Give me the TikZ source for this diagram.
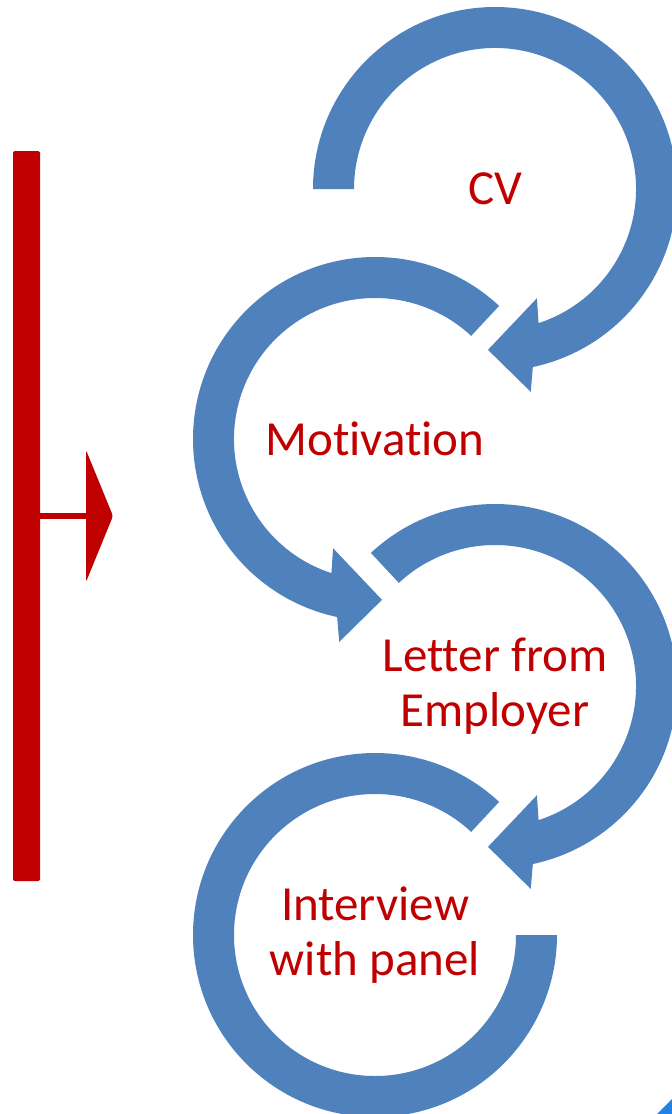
\documentclass[tikz,border=0pt]{standalone}
\usepackage{fontspec}
\setmainfont[Ligatures={NoCommon,NoContextual,NoRequired},Contextuals=NoAlternate]{Carlito}
\usetikzlibrary{calc}
\definecolor{ringblue}{RGB}{79,129,189}
\definecolor{darkred}{RGB}{192,0,0}
\definecolor{cornerblue}{RGB}{30,130,230}

\begin{document}
\begin{tikzpicture}[x=1pt,y=1pt,
    ring/.style={fill=ringblue},
    lbl/.style={text=darkred,align=center,inner sep=0pt,
      font=\fontsize{49}{55}\selectfont}]
    \useasboundingbox (0,0) rectangle (672,-1114);
    \clip (0,0) rectangle (672,-1114); % page edge cuts the rings

    \coordinate (CV)     at (495,-189);
    \coordinate (Motiv)  at (375,-439);
    \coordinate (Letter) at (495,-686);
    \coordinate (Panel)  at (375,-935);

    % clockwise rings with head at the bottom
    \foreach \c/\s in {CV/180, Letter/133}{
      \fill[ring] ($(\c)+(\s:182pt)$)
        arc[start angle=\s, end angle=-78, radius=182pt]
        -- ($(\c)+(-80:206pt)$) -- ($(\c)+(-92.5:161pt)$)
        -- ($(\c)+(-69:117pt)$) -- ($(\c)+(-72:141pt)$)
        arc[start angle=-72, end angle=\s, radius=141pt] -- cycle;
    }
    % counter-clockwise ring with head at the bottom
    \fill[ring] ($(Motiv)+(47:182pt)$)
      arc[start angle=47, end angle=258, radius=182pt]
      -- ($(Motiv)+(260:206pt)$) -- ($(Motiv)+(272.5:161pt)$)
      -- ($(Motiv)+(249:117pt)$) -- ($(Motiv)+(252:141pt)$)
      arc[start angle=252, end angle=47, radius=141pt] -- cycle;
    % last ring, open at the right
    \fill[ring] ($(Panel)+(47:182pt)$)
      arc[start angle=47, end angle=360, radius=182pt]
      -- ($(Panel)+(0:141pt)$)
      arc[start angle=360, end angle=47, radius=141pt] -- cycle;

    \node[lbl] (cvtext)     at (CV)     {CV};
    \node[lbl] (motivtext)  at (Motiv)  {Mot\kern0pt ivat\kern0pt ion};
    \node[lbl] (lettertext) at (Letter) {Letter from\\Employer};
    \node[lbl] (paneltext)  at (Panel)  {Interview\\with panel};

    % red marker on the left
    \fill[darkred,rounded corners=1.5pt] (13,-151) rectangle (40,-881);
    \coordinate (barR)  at (40,-516);
    \coordinate (headL) at (87,-516);
    \draw[darkred,line width=6pt] (barR) -- (headL);
    \fill[darkred,rounded corners=2.5pt] (86,-450) -- (113,-516) -- (86,-582) -- cycle;

    \fill[cornerblue] (657,-1114) -- (672,-1099) -- (672,-1114) -- cycle;
  \end{tikzpicture}
\end{document}
